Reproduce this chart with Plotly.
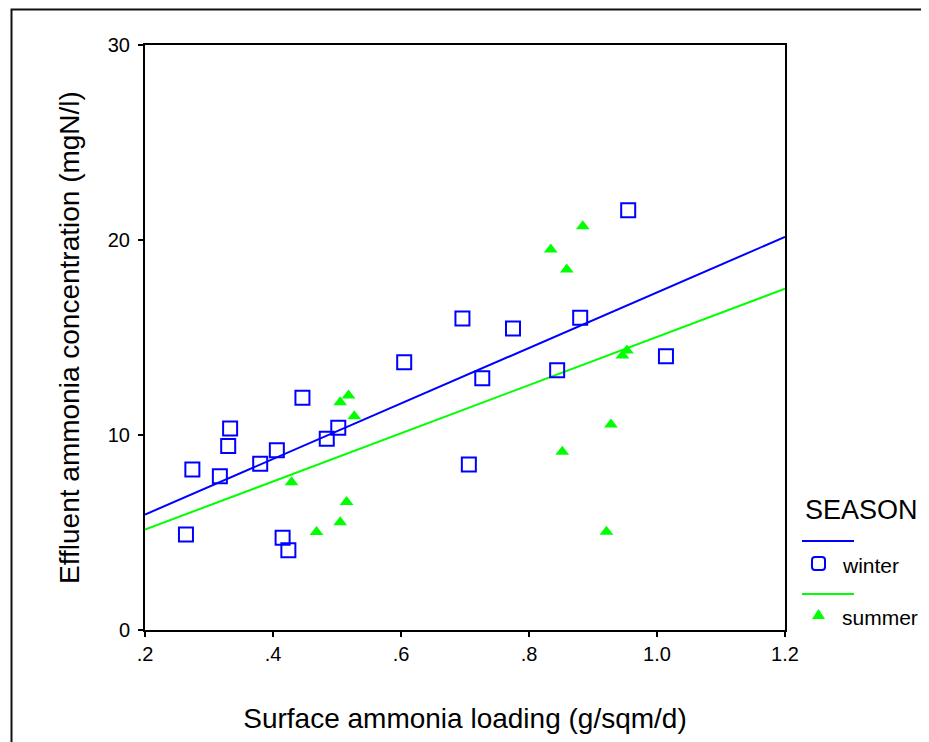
import plotly.graph_objects as go

# ---- data ----
winter_x = [0.274, 0.264, 0.317, 0.330, 0.333, 0.380, 0.406, 0.446, 0.415, 0.424,
            0.484, 0.502, 0.605, 0.955, 0.696, 0.775, 0.880, 0.727, 0.844, 1.014, 0.706]
winter_y = [8.23, 4.90, 7.89, 9.43, 10.33, 8.52, 9.22, 11.91, 4.73, 4.09,
            9.81, 10.37, 13.73, 21.53, 15.97, 15.46, 16.01, 12.91, 13.32, 14.04, 8.49]

summer_x = [0.518, 0.505, 0.527, 0.429, 0.515, 0.505, 0.468, 0.884, 0.834, 0.859,
            0.953, 0.946, 0.928, 0.852, 0.921]
summer_y = [12.03, 11.68, 10.96, 7.58, 6.57, 5.53, 5.02, 20.71, 19.51, 18.49,
            14.33, 14.08, 10.54, 9.14, 5.04]

# fitted lines (endpoints)
fit_x = [0.2, 1.2]
winter_fit_y = [5.92, 20.16]
summer_fit_y = [5.15, 17.50]

x_tickvals = [0.2, 0.4, 0.6, 0.8, 1.0, 1.2]
x_ticktext = [".2", ".4", ".6", ".8", "1.0", "1.2"]
y_tickvals = [0, 10, 20, 30]

BLUE = "#0000ff"
GREEN = "#00ff00"
FONT = "Liberation Sans, Arial, sans-serif"

# the page body has an 8px margin; positions below are in window pixels
OFF = 8
WIN_W, WIN_H = 929, 742
W, H = WIN_W - OFF, WIN_H - OFF
PL, PR, PT, PB = 145, 785, 45, 630          # plot box in window pixels
ML, MT = PL - OFF, PT - OFF
MR, MB = W - (PR - OFF), H - (PB - OFF)
PW, PH = PR - PL, PB - PT


def px(xp):
    return (xp - PL) / PW


def py(yp):
    return (PB - yp) / PH


fig = go.Figure()
fig.add_trace(go.Scatter(x=fit_x, y=winter_fit_y, mode="lines",
                         line=dict(color=BLUE, width=2), showlegend=False, hoverinfo="skip"))
fig.add_trace(go.Scatter(x=fit_x, y=summer_fit_y, mode="lines",
                         line=dict(color=GREEN, width=2), showlegend=False, hoverinfo="skip"))
fig.add_trace(go.Scatter(x=winter_x, y=winter_y, mode="markers", name="winter",
                         marker=dict(symbol="square-open", size=14, color=BLUE,
                                     line=dict(width=2, color=BLUE)),
                         showlegend=False))
fig.add_trace(go.Scatter(x=summer_x, y=summer_y, mode="markers", name="summer",
                         marker=dict(symbol="triangle-up", size=12, color=GREEN,
                                     line=dict(width=0)),
                         showlegend=False))

axis_common = dict(showline=True, linecolor="black", linewidth=2, mirror=True,
                   ticks="outside", ticklen=5, tickwidth=1.5, tickcolor="black",
                   showgrid=False, zeroline=False,
                   tickfont=dict(family=FONT, size=20, color="black"))

fig.update_xaxes(range=[0.2, 1.2], tickvals=x_tickvals, ticktext=x_ticktext,
                 title=dict(text="Surface ammonia loading (g/sqm/d)",
                            font=dict(family=FONT, size=28, color="black"), standoff=44),
                 **axis_common)
fig.update_yaxes(range=[0, 30], tickvals=y_tickvals,
                 title=dict(text="Effluent ammonia concentration (mgN/l)",
                            font=dict(family=FONT, size=28, color="black"), standoff=20),
                 ticklabelstandoff=4,
                 **axis_common)

shapes = []
# outer frame
shapes.append(dict(type="rect", xref="paper", yref="paper",
                   x0=px(11.5), x1=px(960), y0=py(780), y1=py(9.5),
                   line=dict(color="#111", width=2), fillcolor="rgba(0,0,0,0)", layer="below"))
# legend lines
shapes.append(dict(type="line", xref="paper", yref="paper",
                   x0=px(802), x1=px(854), y0=py(541), y1=py(541),
                   line=dict(color=BLUE, width=2)))
shapes.append(dict(type="line", xref="paper", yref="paper",
                   x0=px(802), x1=px(854), y0=py(594), y1=py(594),
                   line=dict(color=GREEN, width=2)))
# legend rounded square
sq = ("M -6.5,-3.5 L -6.5,3.5 Q -6.5,6.5 -3.5,6.5 L 3.5,6.5 Q 6.5,6.5 6.5,3.5 "
      "L 6.5,-3.5 Q 6.5,-6.5 3.5,-6.5 L -3.5,-6.5 Q -6.5,-6.5 -6.5,-3.5 Z")
shapes.append(dict(type="path", xref="paper", yref="paper",
                   xsizemode="pixel", ysizemode="pixel",
                   xanchor=px(818.5), yanchor=py(563.5), path=sq,
                   line=dict(color=BLUE, width=2), fillcolor="rgba(0,0,0,0)"))
# legend triangle
tri = "M -6.5,-4 L 6.5,-4 L 0,6 Z"
shapes.append(dict(type="path", xref="paper", yref="paper",
                   xsizemode="pixel", ysizemode="pixel",
                   xanchor=px(818.5), yanchor=py(615), path=tri,
                   line=dict(color=GREEN, width=0), fillcolor=GREEN))

annotations = [
    dict(text="SEASON", x=px(803), y=py(510), xref="paper", yref="paper",
         xanchor="left", yanchor="middle", showarrow=False,
         font=dict(family=FONT, size=27, color="black")),
    dict(text="winter", x=px(840), y=py(565), xref="paper", yref="paper",
         xanchor="left", yanchor="middle", showarrow=False,
         font=dict(family=FONT, size=21, color="black")),
    dict(text="summer", x=px(840), y=py(617), xref="paper", yref="paper",
         xanchor="left", yanchor="middle", showarrow=False,
         font=dict(family=FONT, size=21, color="black")),
]

fig.update_layout(width=W, height=H,
                  margin=dict(l=ML, r=MR, t=MT, b=MB, autoexpand=False),
                  paper_bgcolor="white", plot_bgcolor="white",
                  font=dict(family=FONT, color="black"),
                  shapes=shapes, annotations=annotations, showlegend=False)

fig.write_html("out.html")
